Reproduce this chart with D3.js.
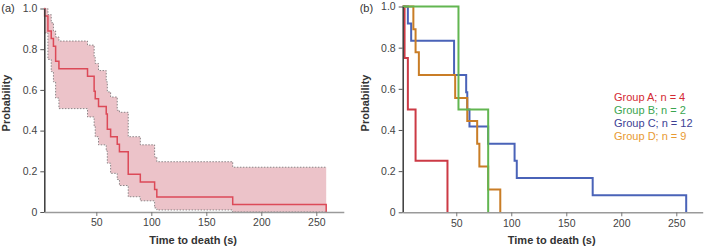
<!DOCTYPE html>
<html>
<head>
<meta charset="utf-8">
<script src="https://cdn.jsdelivr.net/npm/d3@7"></script>
<style>
  body { margin: 0; background: #fff; }
  svg { font-family: "Liberation Sans", Arial, sans-serif; }
</style>
</head>
<body>
<div id="chart"></div>
<script>
// panel (a): pooled Kaplan-Meier estimate with confidence band
const pooledTimes = [3, 6, 9, 11, 13, 16, 42, 48, 49, 52, 59, 60, 63, 69, 71, 79, 90, 103, 105, 174, 259];
const pooledSurv  = [0.963, 0.889, 0.852, 0.815, 0.741, 0.704, 0.667, 0.593, 0.556, 0.519, 0.481, 0.407, 0.370, 0.333, 0.296, 0.185, 0.148, 0.111, 0.074, 0.037, 0];
const pooledUpper = [1.0, 0.97, 0.93, 0.89, 0.86, 0.84, 0.82, 0.76, 0.73, 0.695, 0.64, 0.59, 0.565, 0.50, 0.49, 0.37, 0.33, 0.27, 0.247, 0.22];
const pooledLower = [0.88, 0.75, 0.69, 0.64, 0.56, 0.508, 0.467, 0.42, 0.37, 0.33, 0.30, 0.24, 0.19, 0.16, 0.13, 0.075, 0.055, 0.02, 0.01, 0];

// panel (b): one curve per group
const groupNames = ['Group A; n = 4', 'Group B; n = 2', 'Group C; n = 12', 'Group D; n = 9'];
const groupTimes = [
  [3, 6, 13, 42],
  [52, 79],
  [6, 9, 48, 59, 60, 62, 79, 103, 105, 174, 259],
  [11, 13, 16, 49, 60, 69, 71, 79, 90]
];
const groupSurv = [
  [0.75, 0.5, 0.25, 0],
  [0.5, 0],
  [0.917, 0.833, 0.667, 0.583, 0.5, 0.417, 0.333, 0.25, 0.167, 0.083, 0],
  [0.889, 0.778, 0.667, 0.556, 0.444, 0.333, 0.222, 0.111, 0]
];
const lineColors = ['#cc3a45', '#62b651', '#4a63b8', '#c97d26'];
const legendColors = ['#d42a33', '#3aa54f', '#3d3f94', '#e89a32'];
const drawOrder = [0, 2, 3, 1];

const yTicks = [0, 0.2, 0.4, 0.6, 0.8, 1.0];
const xTicks = [50, 100, 150, 200, 250];

const width = 707, height = 249;
const svg = d3.select('#chart').append('svg')
  .attr('width', width)
  .attr('height', height);

const xA = d3.scaleLinear().domain([2.7, 275]).range([44.3, 343.8]);
const yA = d3.scaleLinear().domain([0, 1]).range([212, 8.5]);
const xB = d3.scaleLinear().domain([1.3, 274]).range([402.7, 702.7]);
const yB = d3.scaleLinear().domain([0, 1]).range([212.3, 6.5]);

function drawAxes(x, y, label, titleX) {
  const fmt = d => d === 0 ? '0' : d3.format('.1f')(d);
  const gy = svg.append('g')
    .attr('transform', `translate(${x.range()[0]},0)`)
    .call(d3.axisLeft(y).tickValues(yTicks).tickFormat(fmt).tickSize(4).tickSizeOuter(0).tickPadding(3));
  gy.select('.domain').attr('stroke', '#3a3a3a').attr('stroke-width', 1.5);
  gy.selectAll('.tick line').attr('stroke', '#555');
  gy.selectAll('.tick text').attr('fill', '#444').style('font-size', '10.5px');

  const gx = svg.append('g')
    .attr('transform', `translate(0,${y(0)})`)
    .call(d3.axisBottom(x).tickValues(xTicks).tickFormat(d3.format('d')).tickSize(4).tickSizeOuter(0).tickPadding(3));
  gx.select('.domain').attr('stroke', '#9a9a9a').attr('stroke-width', 1.5);
  gx.selectAll('.tick line').attr('stroke', '#777');
  gx.selectAll('.tick text').attr('fill', '#444').style('font-size', '10.5px');

  svg.append('text')
    .attr('x', (x.range()[0] + x.range()[1]) / 2 - 1)
    .attr('y', 244)
    .attr('text-anchor', 'middle')
    .style('font-size', '11px')
    .style('font-weight', 'bold')
    .attr('fill', '#333')
    .text('Time to death (s)');

  svg.append('text')
    .attr('transform', `translate(${titleX},103) rotate(-90)`)
    .attr('text-anchor', 'middle')
    .style('font-size', '11px')
    .style('font-weight', 'bold')
    .attr('fill', '#333')
    .text('Probability');

  svg.append('text')
    .attr('x', x.range()[0] - 43)
    .attr('y', 12)
    .style('font-size', '11px')
    .attr('fill', '#333')
    .text(label);
}

// ---- panel (a)
const band = pooledUpper.map((u, i) => [pooledTimes[i], u, pooledLower[i]]);
band.push([pooledTimes[pooledTimes.length - 1], pooledUpper[pooledUpper.length - 1], pooledLower[pooledLower.length - 1]]);

svg.append('path')
  .datum(band)
  .attr('fill', '#ecc3c9')
  .attr('d', d3.area().curve(d3.curveStepAfter)
    .x(d => xA(d[0])).y0(d => yA(d[2])).y1(d => yA(d[1])));

[1, 2].forEach(k => {
  svg.append('path')
    .datum(band)
    .attr('fill', 'none')
    .attr('stroke', '#8a8486')
    .attr('stroke-width', 1)
    .attr('stroke-dasharray', '1.5,1.5')
    .attr('d', d3.line().curve(d3.curveStepAfter).x(d => xA(d[0])).y(d => yA(d[k])));
});

const kmA = [[xA.domain()[0], 1]].concat(pooledTimes.map((t, i) => [t, pooledSurv[i]]));
svg.append('path')
  .datum(kmA)
  .attr('fill', 'none')
  .attr('stroke', '#dc4a58')
  .attr('stroke-width', 1.5)
  .attr('d', d3.line().curve(d3.curveStepAfter).x(d => xA(d[0])).y(d => yA(d[1])));

drawAxes(xA, yA, '(a)', 10);

// ---- panel (b)
drawOrder.forEach(g => {
  const pts = [[xB.domain()[0], 1]].concat(groupTimes[g].map((t, i) => [t, groupSurv[g][i]]));
  svg.append('path')
    .datum(pts)
    .attr('fill', 'none')
    .attr('stroke', lineColors[g])
    .attr('stroke-width', 2)
    .attr('d', d3.line().curve(d3.curveStepAfter).x(d => xB(d[0])).y(d => yB(d[1])));
});

drawAxes(xB, yB, '(b)', 369);

svg.selectAll('.legend')
  .data(groupNames)
  .enter()
  .append('text')
  .attr('class', 'legend')
  .attr('x', 614)
  .attr('y', (d, i) => 101 + i * 13)
  .style('font-size', '11px')
  .attr('fill', (d, i) => legendColors[i])
  .text(d => d);
</script>
</body>
</html>
